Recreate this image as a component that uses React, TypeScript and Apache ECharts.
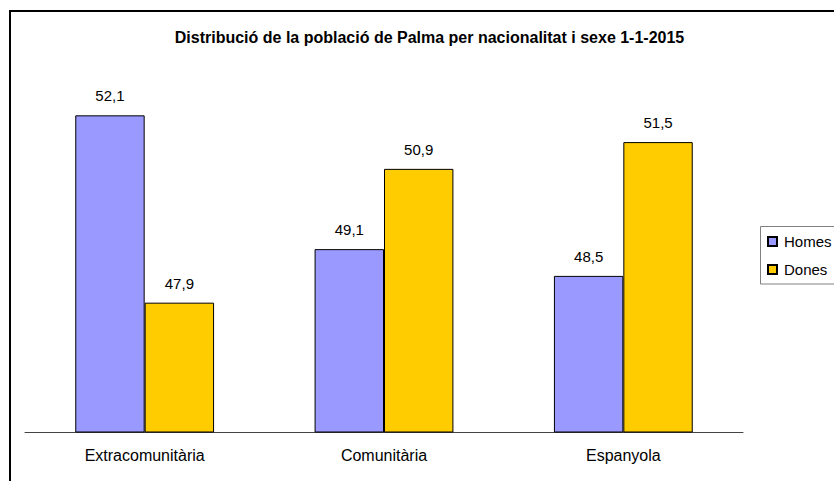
import React, { useEffect, useRef } from "react";
import * as echarts from "echarts";

const categories = ["Extracomunitària", "Comunitària", "Espanyola"];
const homes = [52.1, 49.1, 48.5];
const dones = [47.9, 50.9, 51.5];
const seriesNames = ["Homes", "Dones"];
const titleText = "Distribució de la població de Palma per nacionalitat i sexe 1-1-2015";

export default function App() {
  const ref = useRef<HTMLDivElement>(null);
  useEffect(() => {
    if (!ref.current) return;
    const chart = echarts.init(ref.current, null, { renderer: "svg" });
    const font = "Liberation Sans, Arial, sans-serif";
    const fmt = (p: any) => String(p.value).replace(".", ",");
    chart.setOption({
      animation: false,
      backgroundColor: "#ffffff",
      textStyle: { fontFamily: font },
      grid: { left: 25, right: 91, top: 75.2, bottom: 49 },
      xAxis: {
        type: "category",
        data: categories,
        axisLine: { lineStyle: { color: "#444", width: 1 } },
        axisTick: { length: 4, lineStyle: { color: "#444" } },
        axisLabel: { color: "#000", fontSize: 16, fontFamily: font, margin: 15 },
      },
      yAxis: {
        type: "value",
        min: 45,
        max: 53,
        show: false,
        splitLine: { show: false },
      },
      legend: {
        orient: "vertical",
        left: 762,
        top: 229,
        itemWidth: 9,
        itemHeight: 9,
        itemGap: 13,
        icon: "rect",
        textStyle: { fontSize: 15, color: "#000", fontFamily: font, padding: [0, 0, 0, 2] },
        data: seriesNames,
      },
      graphic: [
        {
          type: "rect",
          shape: { x: 10, y: 11, width: 1000, height: 800 },
          style: { fill: "none", stroke: "#000", lineWidth: 2 },
          silent: true,
        },
        {
          type: "rect",
          shape: { x: 760.5, y: 226.5, width: 200, height: 57.5 },
          style: { fill: "none", stroke: "#808080", lineWidth: 1 },
          silent: true,
        },
        {
          type: "text",
          x: 429.5,
          y: 37,
          style: {
            text: titleText,
            fontSize: 16,
            fontWeight: "bold",
            fontFamily: font,
            fill: "#000",
            textAlign: "center",
            textVerticalAlign: "middle",
          },
        },
      ],
      series: [
        {
          name: seriesNames[0],
          type: "bar",
          data: homes,
          barCategoryGap: "42%",
          barGap: "0%",
          itemStyle: { color: "#9999FF", borderColor: "#000", borderWidth: 1 },
          label: { show: true, position: "top", distance: 12, fontSize: 15, color: "#000", fontFamily: font, formatter: fmt },
        },
        {
          name: seriesNames[1],
          type: "bar",
          data: dones,
          barCategoryGap: "42%",
          barGap: "0%",
          itemStyle: { color: "#FFCC00", borderColor: "#000", borderWidth: 1 },
          label: { show: true, position: "top", distance: 12, fontSize: 15, color: "#000", fontFamily: font, formatter: fmt },
        },
      ],
    });
    return () => chart.dispose();
  }, []);
  return (
    <div
      ref={ref}
      style={{ position: "fixed", left: 0, top: 0, width: 834, height: 481 }}
    />
  );
}
